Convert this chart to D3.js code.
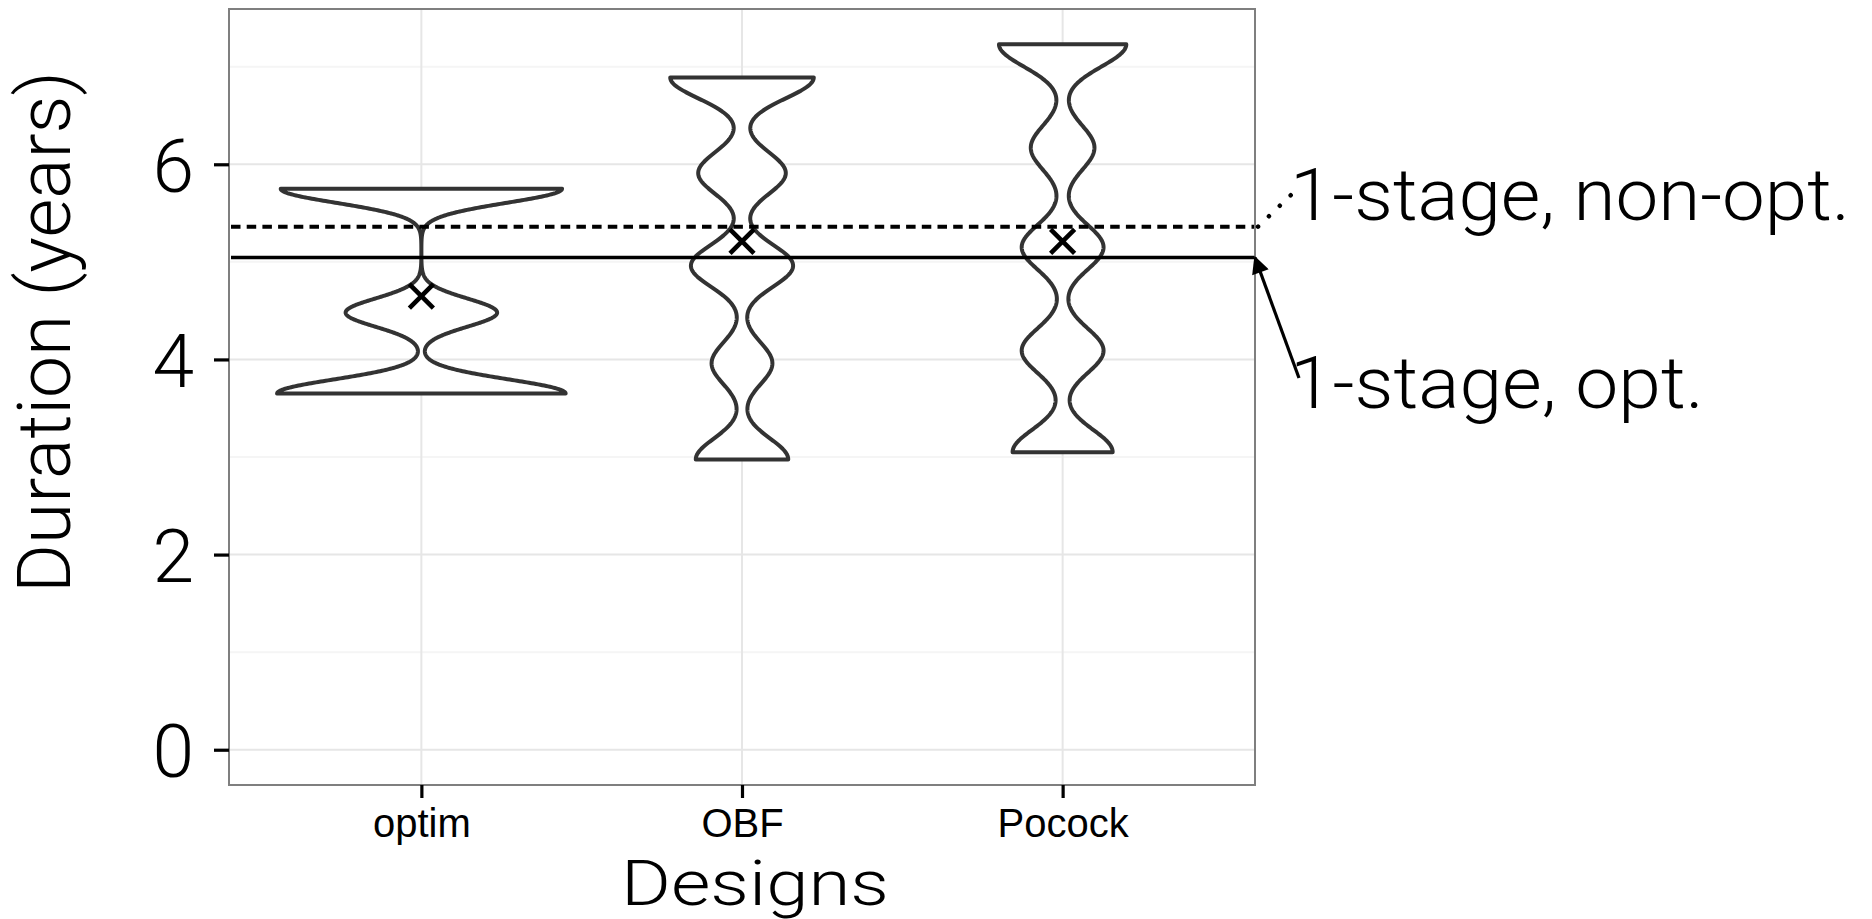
<!DOCTYPE html>
<html>
<head>
<meta charset="utf-8">
<script src="https://cdn.jsdelivr.net/npm/d3@7"></script>
<style>
  body { margin: 0; background: #fff; }
  .light { font-family: Roboto, "Open Sans", sans-serif; font-weight: 300; fill: #000; }
  .tick-x text { font-family: "Liberation Sans", Arial, sans-serif; }
</style>
</head>
<body>
<svg id="chart" width="1872" height="919"></svg>
<script>
// designs on the x axis
const designs = ['optim', 'OBF', 'Pocock'];
// durations (years) at which the simulated trials stop, per design
const stopDurations = [
    [3.65, 4.48, 5.75],
    [2.975, 3.96, 4.96, 5.91, 6.89],
    [3.05, 4.09, 5.15, 6.17, 7.23]
];
// share of trials stopping at each of those durations
const stopShares = [
    [0.40, 0.21, 0.39],
    [0.19, 0.125, 0.21, 0.18, 0.295],
    [0.22, 0.18, 0.18, 0.14, 0.28]
];
// kernel bandwidth of each violin
const bandwidths = [0.145, 0.215, 0.23];
// mean duration per design (crosses)
const meanDurations = [4.65, 5.21, 5.21];
// one-stage reference durations
const refLabels = ['1-stage, opt.', '1-stage, non-opt.'];
const refDurations = [5.045, 5.36];
const yTicks = [0, 2, 4, 6];
const yMinorTicks = [1, 3, 5, 7];

const margins = { top: 9, right: 617, bottom: 134, left: 229 };
const width = 1872, height = 919;

const svg = d3.select('#chart');

// y domain: data range plus 0, expanded 5% like ggplot
const lo = 0;
const hi = d3.max(stopDurations.flat());
const pad = (hi - lo) * 0.05;

const y = d3.scaleLinear()
    .domain([lo - pad, hi + pad])
    .range([height - margins.bottom, margins.top]);

const x = d3.scalePoint()
    .domain(designs)
    .range([margins.left, width - margins.right])
    .padding(0.6);

// kernel density per design, evaluated inside the data range
function density(i) {
    const ds = stopDurations[i], ps = stopShares[i], bw = bandwidths[i];
    const [a, b] = d3.extent(ds);
    const pts = d3.range(0, 513).map(k => a + (b - a) * k / 512);
    return pts.map(v => ({
        v: v,
        d: d3.sum(ds, (m, j) => ps[j] * Math.exp(-((v - m) ** 2) / (2 * bw * bw)) / (bw * Math.sqrt(2 * Math.PI)))
    }));
}
const violins = designs.map((name, i) => ({ name: name, pts: density(i) }));

const w = d3.scaleLinear()
    .domain([0, d3.max(violins, d => d3.max(d.pts, p => p.d))])
    .range([0, 0.45 * x.step()]);

// grid
const grid = svg.append('g').attr('id', 'grid');
grid.selectAll('line.minor')
    .data(yMinorTicks)
    .enter()
    .append('line')
    .attr('class', 'minor')
    .attr('x1', margins.left).attr('x2', width - margins.right)
    .attr('y1', d => y(d)).attr('y2', d => y(d))
    .attr('stroke', '#f5f5f5')
    .attr('stroke-width', 2);
grid.selectAll('line.major-y')
    .data(yTicks)
    .enter()
    .append('line')
    .attr('class', 'major-y')
    .attr('x1', margins.left).attr('x2', width - margins.right)
    .attr('y1', d => y(d)).attr('y2', d => y(d))
    .attr('stroke', '#e6e6e6')
    .attr('stroke-width', 2);
grid.selectAll('line.major-x')
    .data(designs)
    .enter()
    .append('line')
    .attr('class', 'major-x')
    .attr('x1', d => x(d)).attr('x2', d => x(d))
    .attr('y1', margins.top).attr('y2', height - margins.bottom)
    .attr('stroke', '#e6e6e6')
    .attr('stroke-width', 2);

// violins
const area = d3.area()
    .y(p => y(p.v));

svg.append('g')
    .attr('id', 'violins')
    .selectAll('path')
    .data(violins)
    .enter()
    .append('path')
    .attr('d', d => area
        .x0(p => x(d.name) - w(p.d))
        .x1(p => x(d.name) + w(p.d))(d.pts) + 'Z')
    .attr('fill', '#fff')
    .attr('stroke', '#333333')
    .attr('stroke-width', 4)
    .attr('stroke-linejoin', 'round');

// one-stage reference lines
svg.append('g')
    .attr('id', 'refs')
    .selectAll('line')
    .data(refDurations)
    .enter()
    .append('line')
    .attr('x1', margins.left + 2).attr('x2', width - margins.right)
    .attr('y1', d => y(d)).attr('y2', d => y(d))
    .attr('stroke', '#000')
    .attr('stroke-width', (d, i) => i === 1 ? 4 : 3.4)
    .attr('stroke-dasharray', (d, i) => i === 1 ? '9.5,6.2' : null);

// means
svg.append('g')
    .attr('id', 'means')
    .selectAll('path')
    .data(meanDurations)
    .enter()
    .append('path')
    .attr('transform', (d, i) => `translate(${x(designs[i])},${y(d)})`)
    .attr('d', 'M-12,-12L12,12M-12,12L12,-12')
    .attr('stroke', '#000')
    .attr('stroke-width', 4.6);

// panel border
svg.append('rect')
    .attr('x', margins.left).attr('y', margins.top)
    .attr('width', width - margins.right - margins.left)
    .attr('height', height - margins.bottom - margins.top)
    .attr('fill', 'none')
    .attr('stroke', '#7f7f7f')
    .attr('stroke-width', 2);

// axes
const yAxis = svg.append('g')
    .attr('transform', `translate(${margins.left},0)`)
    .call(d3.axisLeft(y).tickValues(yTicks).tickSize(15).tickPadding(20).tickFormat(d3.format('d')));
yAxis.select('.domain').remove();
yAxis.selectAll('line').attr('stroke', '#000').attr('stroke-width', 3.2);
yAxis.selectAll('text')
    .attr('class', 'light')
    .attr('font-size', 75)
    .attr('dy', '0.36em');

const xAxis = svg.append('g')
    .attr('class', 'tick-x')
    .attr('transform', `translate(0,${height - margins.bottom})`)
    .call(d3.axisBottom(x).tickSize(13).tickPadding(11));
xAxis.select('.domain').remove();
xAxis.selectAll('line').attr('stroke', '#000').attr('stroke-width', 3.2);
xAxis.selectAll('text')
    .attr('font-size', 40)
    .attr('fill', '#000');

// axis titles
svg.append('text')
    .attr('class', 'light')
    .attr('x', (margins.left + width - margins.right) / 2 + 13)
    .attr('y', 905)
    .attr('text-anchor', 'middle')
    .attr('font-size', 63)
    .attr('textLength', 268)
    .attr('lengthAdjust', 'spacingAndGlyphs')
    .text('Designs');

svg.append('text')
    .attr('class', 'light')
    .attr('transform', 'translate(70,332) rotate(-90)')
    .attr('text-anchor', 'middle')
    .attr('font-size', 74)
    .attr('textLength', 522)
    .attr('lengthAdjust', 'spacingAndGlyphs')
    .text('Duration (years)');

// direct labels for the reference lines
const labelX = 1290;
const labelBaseline = [408, 220];
const labelLength = [414, 560];
const right = width - margins.right;

svg.append('defs').append('marker')
    .attr('id', 'arrow')
    .attr('viewBox', '0 0 10 10')
    .attr('refX', 9).attr('refY', 5)
    .attr('markerWidth', 6).attr('markerHeight', 5.5)
    .attr('markerUnits', 'strokeWidth')
    .attr('orient', 'auto')
    .append('path')
    .attr('d', 'M0,0L10,5L0,10Z')
    .attr('fill', '#000');

// arrow to the solid line
svg.append('line')
    .attr('x1', labelX + 9).attr('y1', labelBaseline[0] - 30)
    .attr('x2', right).attr('y2', y(refDurations[0]))
    .attr('stroke', '#000')
    .attr('stroke-width', 3.2)
    .attr('marker-end', 'url(#arrow)');

// dotted leader to the dashed line
svg.append('line')
    .attr('x1', right + 3).attr('y1', y(refDurations[1]))
    .attr('x2', labelX + 2).attr('y2', labelBaseline[1] - 26)
    .attr('stroke', '#000')
    .attr('stroke-width', 4.5)
    .attr('stroke-linecap', 'round')
    .attr('stroke-dasharray', '0.1,15');

svg.append('g')
    .selectAll('text')
    .data(refLabels)
    .enter()
    .append('text')
    .attr('class', 'light')
    .attr('x', labelX)
    .attr('y', (d, i) => labelBaseline[i])
    .attr('font-size', 72)
    .attr('textLength', (d, i) => labelLength[i])
    .attr('lengthAdjust', 'spacingAndGlyphs')
    .text(d => d);
</script>
</body>
</html>
